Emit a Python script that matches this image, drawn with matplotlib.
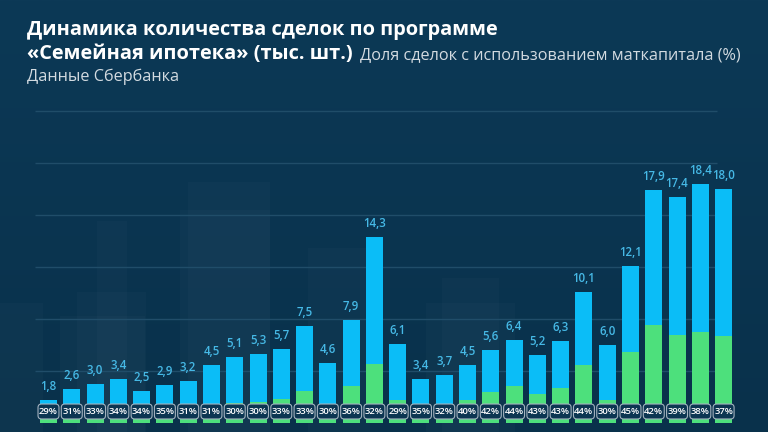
import matplotlib.pyplot as plt
import numpy as np
from matplotlib.patches import FancyBboxPatch, Rectangle
from matplotlib.colors import LinearSegmentedColormap

# данные
totals = [1.8, 2.6, 3.0, 3.4, 2.5, 2.9, 3.2, 4.5, 5.1, 5.3, 5.7, 7.5, 4.6, 7.9, 14.3,
          6.1, 3.4, 3.7, 4.5, 5.6, 6.4, 5.2, 6.3, 10.1, 6.0, 12.1, 17.9, 17.4, 18.4, 18.0]
share_pct = [29, 31, 33, 34, 34, 35, 31, 31, 30, 30, 33, 33, 30, 36, 32,
             29, 35, 32, 40, 42, 44, 43, 43, 44, 30, 45, 42, 39, 38, 37]
value_labels = ['{:.1f}'.format(v).replace('.', ',') for v in totals]
pct_labels = ['{}%'.format(p) for p in share_pct]
matcap = [t * p / 100 for t, p in zip(totals, share_pct)]

title_1 = 'Динамика количества сделок по программе'
title_2 = '«Семейная ипотека» (тыс. шт.)'
legend_text = 'Доля сделок с использованием маткапитала (%)'
source = 'Данные Сбербанка'

BG_TOP = '#0c3956'
BG_BOT = '#09314b'
BLUE = '#0bbdf7'
GREEN = '#4de07c'
LABEL = '#46b9e6'
GRID = '#204d69'

plt.rcParams['font.family'] = ['Open Sans', 'DejaVu Sans']

fig = plt.figure(figsize=(7.68, 4.32), dpi=100)

# фон с силуэтами
bg = fig.add_axes([0, 0, 1, 1])
grad = np.linspace(0, 1, 256).reshape(-1, 1)
cmap = LinearSegmentedColormap.from_list('bg', [BG_TOP, BG_BOT])
bg.imshow(grad, cmap=cmap, aspect='auto', extent=[0, 768, 432, 0])
shapes = [(0, 303, 43), (60, 316, 85), (77, 292, 69), (97, 221, 30), (180, 210, 90),
          (188, 182, 82), (308, 248, 62), (426, 303, 89), (442, 278, 57)]
for x0, y0, w in shapes:
    bg.add_patch(Rectangle((x0, y0), w, 432 - y0, color='#ffffff', alpha=0.018, lw=0))
bg.set_xlim(0, 768)
bg.set_ylim(432, 0)
bg.axis('off')

ax = fig.add_axes([0, 0, 1, 1])
ax.patch.set_alpha(0)
ax.axis('off')
ax.set_xlim(-2.083, 30.907)
ax.set_ylim(-0.692, 32.54)

x = np.arange(len(totals))

ax.hlines([4, 8, 12, 16, 20, 24], -0.58, 28.72, color=GRID, lw=1, zorder=1)

ax.bar(x, totals, width=0.73, color=BLUE, zorder=2)
ax.bar(x, matcap, width=0.73, color=GREEN, zorder=3)

for i in range(len(totals)):
    ax.annotate(value_labels[i], (x[i], totals[i]), xytext=(0, 5), textcoords='offset points',
                ha='center', va='bottom', color=LABEL, fontsize=8.3, fontweight='semibold', zorder=5)
    box = FancyBboxPatch((x[i] - 0.45, 0.31), 0.9, 1.15,
                         boxstyle='round,pad=0,rounding_size=0.15',
                         mutation_aspect=23.28 / 13,
                         fc='#0c3652', ec='#a3b2bf', lw=0.8, zorder=4)
    ax.add_patch(box)
    ax.text(x[i], 0.885, pct_labels[i], ha='center', va='center', color='white',
            fontsize=6.8, fontweight='semibold', zorder=5)

fig.text(27 / 768, 1 - 30 / 432, title_1, ha='left', va='center', color='white',
         fontsize=14.4, fontweight='bold')
fig.text(27 / 768, 1 - 54 / 432, title_2, ha='left', va='center', color='white',
         fontsize=14.4, fontweight='bold')
fig.text(360 / 768, 1 - 55 / 432, legend_text, ha='left', va='center', color='#d3dbe1',
         fontsize=11.7)
fig.text(27 / 768, 1 - 77 / 432, source, ha='left', va='center', color='#d3dbe1',
         fontsize=11.7)

fig.savefig('out.png', dpi=100, facecolor=BG_TOP)
